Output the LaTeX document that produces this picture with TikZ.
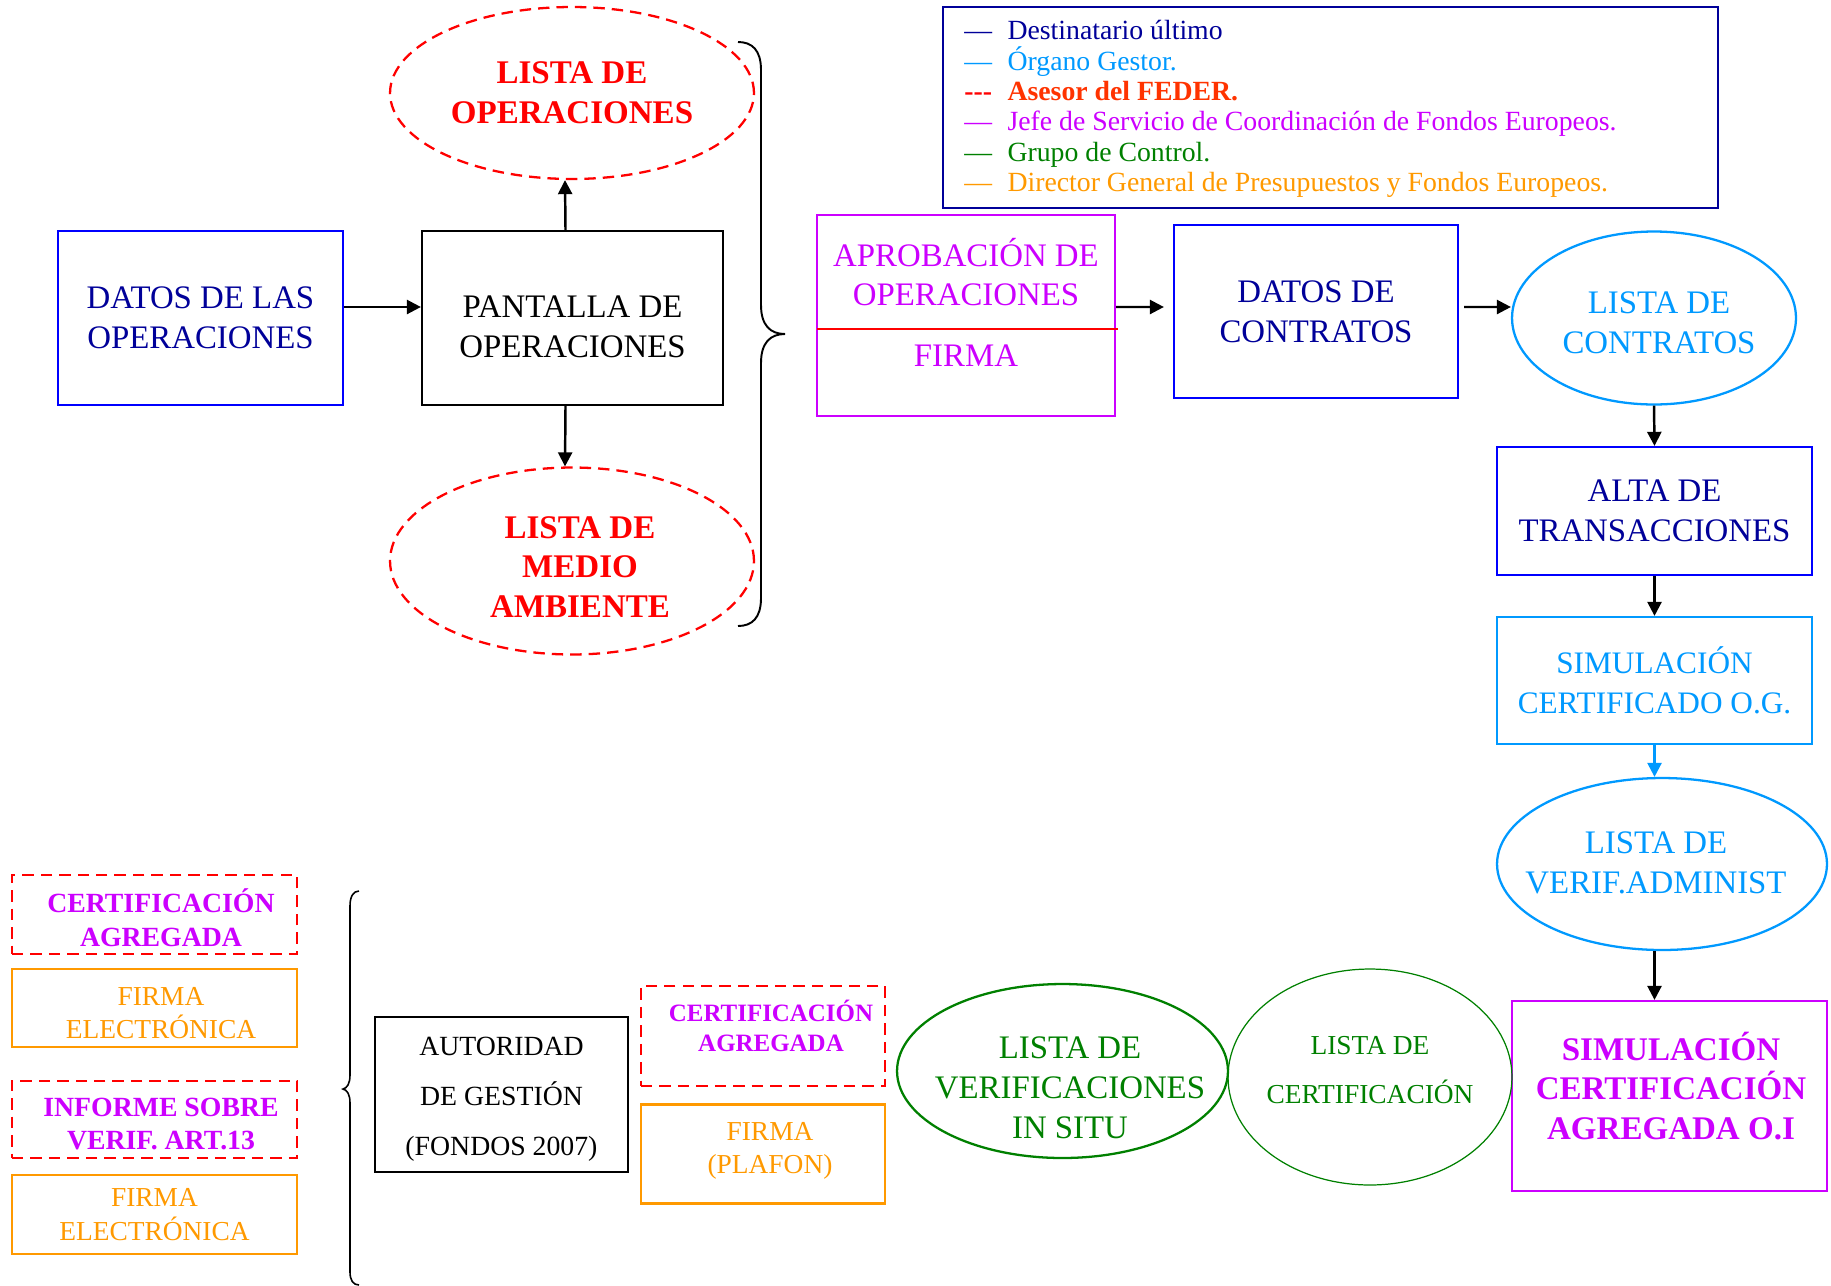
\documentclass[tikz,border=0pt]{standalone}
\usepackage{fontspec}
\setmainfont{Liberation Serif}
\usetikzlibrary{shapes.geometric,arrows.meta}

\definecolor{navyc}{RGB}{0,0,153}
\definecolor{bluec}{RGB}{0,0,255}
\definecolor{skyc}{RGB}{0,153,255}
\definecolor{violc}{RGB}{204,0,255}
\definecolor{greenc}{RGB}{0,128,0}
\definecolor{orangec}{RGB}{255,153,0}
\definecolor{redc}{RGB}{255,0,0}
\definecolor{federc}{RGB}{255,51,0}

\tikzset{
  box/.style={rectangle, draw, line width=1.3pt, align=center, inner sep=0pt},
  oval/.style={ellipse, draw, line width=1.3pt, inner sep=0pt},
  txt/.style={align=center, inner sep=0pt},
  reddash/.style={draw=redc, dash pattern=on 6.5pt off 4pt},
  arr/.style={-{Triangle[length=8pt,width=8pt]}, line width=1.4pt},
  legtxt/.style={anchor=base west, inner sep=0pt, font=\fontsize{15.8}{17}\selectfont},
  bigbf/.style={font=\fontsize{18.8}{22.7}\selectfont\bfseries},
  smallrm/.style={font=\fontsize{15.6}{19}\selectfont},
  smallbf/.style={font=\fontsize{15.8}{19.2}\selectfont\bfseries},
}

\begin{document}
\begin{tikzpicture}[x=0.02cm, y=-0.02cm, font=\fontsize{18.7}{22.7}\selectfont]
\useasboundingbox (0,0) rectangle (1831,1285);

% leyenda
\node[box, draw=navyc, minimum width=15.5cm, minimum height=4.02cm] (legend) at (1330.5,107.5) {};
\node[legtxt, text=navyc] (lg1) at (964,39.5) {—\hspace{8.8pt}Destinatario último};
\node[legtxt, text=skyc] (lg2) at (964,70) {—\hspace{8.8pt}Órgano Gestor.};
\node[legtxt, text=federc, font=\fontsize{15.8}{17}\selectfont\bfseries] (lg3) at (964,100) {\textcolor{redc}{-{}-{}-}\hspace{8.8pt}Asesor del FEDER.};
\node[legtxt, text=violc] (lg4) at (964,130.5) {—\hspace{8.8pt}Jefe de Servicio de Coordinación de Fondos Europeos.};
\node[legtxt, text=greenc] (lg5) at (964,161) {—\hspace{8.8pt}Grupo de Control.};
\node[legtxt, text=orangec] (lg6) at (964,191) {—\hspace{8.8pt}Director General de Presupuestos y Fondos Europeos.};

% operaciones
\node[box, draw=bluec, text=navyc, minimum width=5.7cm, minimum height=3.48cm] (datosop) at (200.5,318) {DATOS DE LAS\\OPERACIONES};
\node[box, minimum width=6.02cm, minimum height=3.48cm] (pantalla) at (572.5,318) {};
\node[txt] (pantallatxt) at (572.5,327) {PANTALLA DE\\OPERACIONES};
\node[oval, reddash, minimum width=7.28cm, minimum height=3.44cm] (listaop) at (572,93) {};
\node[txt, bigbf, text=redc] (listaoptxt) at (572,93) {LISTA DE\\OPERACIONES};
\node[oval, reddash, minimum width=7.28cm, minimum height=3.74cm] (listama) at (572,561) {};
\node[txt, bigbf, text=redc] (listamatxt) at (580,567) {LISTA DE\\MEDIO\\AMBIENTE};

\draw[line width=1.1pt] (738,42) .. controls (752,42) and (761,50) .. (761,70) -- (761,305)
  .. controls (761,325) and (770,334) .. (785,334) .. controls (770,334) and (761,343) .. (761,363)
  -- (761,598) .. controls (761,618) and (752,626) .. (738,626);

% aprobacion y contratos
\node[box, draw=violc, minimum width=5.96cm, minimum height=4.02cm] (aprob) at (966,315.5) {};
\coordinate (divl) at (817,329);
\coordinate (divr) at (1118,329);
\draw[redc, line width=0.9pt] (divl) -- (divr);
\node[txt, text=violc] (aprobtxt) at (966,272) {APROBACIÓN DE\\OPERACIONES};
\node[txt, text=violc] (firmatxt) at (966,356) {FIRMA};
\node[box, draw=bluec, text=navyc, minimum width=5.68cm, minimum height=3.46cm] (datoscon) at (1316,311.5) {DATOS DE\\CONTRATOS};
\node[oval, draw=skyc, minimum width=5.68cm, minimum height=3.46cm] (listacon) at (1654,318) {};
\node[txt, text=skyc] (listacontxt) at (1659,323) {LISTA DE\\CONTRATOS};
\node[box, draw=bluec, text=navyc, minimum width=6.3cm, minimum height=2.56cm] (alta) at (1654.5,511) {ALTA DE\\TRANSACCIONES};
\node[box, draw=skyc, text=skyc, minimum width=6.3cm, minimum height=2.54cm, font=\fontsize{17.8}{22.7}\selectfont] (simog) at (1654.5,680.5) {SIMULACIÓN\\CERTIFICADO O.G.};
\node[oval, draw=skyc, minimum width=6.6cm, minimum height=3.44cm] (verif) at (1662,864) {};
\node[txt, text=skyc] (veriftxt) at (1656,863) {LISTA DE\\VERIF.ADMINIST};
\node[box, draw=violc, minimum width=6.3cm, minimum height=3.8cm] (simoi) at (1669.5,1096) {};
\node[txt, bigbf, text=violc] (simoitxt) at (1671,1086) {SIMULACIÓN\\CERTIFICACIÓN\\AGREGADA O.I};

% control
\node[oval, draw=greenc, line width=0.7pt, minimum width=5.68cm, minimum height=4.32cm] (listacert) at (1370,1077) {};
\node[txt, text=greenc, font=\fontsize{15.6}{28.4}\selectfont] (listacerttxt) at (1370,1070) {LISTA DE\\CERTIFICACIÓN};
\node[oval, draw=greenc, minimum width=6.62cm, minimum height=3.48cm] (listasitu) at (1062.5,1071) {};
\node[txt, text=greenc] (listasitutxt) at (1070,1088) {LISTA DE\\VERIFICACIONES\\IN SITU};

% autoridad de gestion
\node[box, line width=0.9pt, minimum width=5.06cm, minimum height=3.1cm] (autoridad) at (501.5,1094.5) {};
\node[txt, font=\fontsize{15.8}{28.4}\selectfont] (autoridadtxt) at (501.5,1099) {AUTORIDAD\\DE GESTIÓN\\(FONDOS 2007)};
\node[box, reddash, line width=1.6pt, minimum width=4.88cm, minimum height=2cm] (certag2) at (763,1036) {};
\node[txt, text=violc, font=\fontsize{14.2}{17.2}\selectfont\bfseries] (certag2txt) at (771,1026) {CERTIFICACIÓN\\AGREGADA};
\node[box, draw=orangec, line width=1.6pt, minimum width=4.88cm, minimum height=1.98cm] (plafon) at (763,1154) {};
\node[txt, text=orangec, smallrm] (plafontxt) at (770,1151) {FIRMA\\(PLAFON)};

\draw[line width=0.9pt] (359,891) .. controls (353,891) and (350,897) .. (350,906) -- (350,1075)
  .. controls (350,1084) and (347,1088) .. (343,1089) .. controls (347,1090) and (350,1094) .. (350,1103)
  -- (350,1272) .. controls (350,1280) and (353,1285) .. (359,1285);

\node[box, reddash, line width=1.6pt, minimum width=5.7cm, minimum height=1.58cm] (certag1) at (154.5,914.5) {};
\node[txt, text=violc, smallbf] (certag1txt) at (161,918) {CERTIFICACIÓN\\AGREGADA};
\node[box, draw=orangec, line width=1.6pt, minimum width=5.7cm, minimum height=1.56cm] (firma1) at (154.5,1008) {};
\node[txt, text=orangec, smallrm] (firma1txt) at (161,1013) {FIRMA\\ELECTRÓNICA};
\node[box, reddash, line width=1.6pt, minimum width=5.7cm, minimum height=1.54cm] (informe) at (154.5,1119.5) {};
\node[txt, text=violc, smallbf] (informetxt) at (161,1124) {INFORME SOBRE\\VERIF. ART.13};
\node[box, draw=orangec, text=orangec, line width=1.6pt, minimum width=5.7cm, minimum height=1.58cm, smallrm] (firma2) at (154.5,1214.5) {FIRMA\\ELECTRÓNICA};

% flechas
\draw[arr] ([yshift=0.22cm]datosop.east) -- ([yshift=0.22cm]pantalla.west);
\draw[arr] ([xshift=-0.14cm]pantalla.north) -- ([xshift=-0.14cm]listaop.south);
\draw[arr] ([xshift=-0.14cm]pantalla.south) -- ([xshift=-0.14cm]listama.north);
\draw[arr, shorten >=0.18cm] ([yshift=0.17cm]aprob.east) -- ([yshift=0.09cm]datoscon.west);
\draw[arr, shorten <=0.1cm] ([yshift=0.09cm]datoscon.east) -- ([yshift=0.22cm]listacon.west);
\draw[arr] (listacon.south) -- (alta.north);
\draw[arr] (alta.south) -- (simog.north);
\draw[arr, draw=skyc, fill=skyc] (simog.south) -- (simog.south |- verif.north);
\draw[arr] (simog.south |- verif.south) -- (simog.south |- simoi.north);
\end{tikzpicture}
\end{document}
